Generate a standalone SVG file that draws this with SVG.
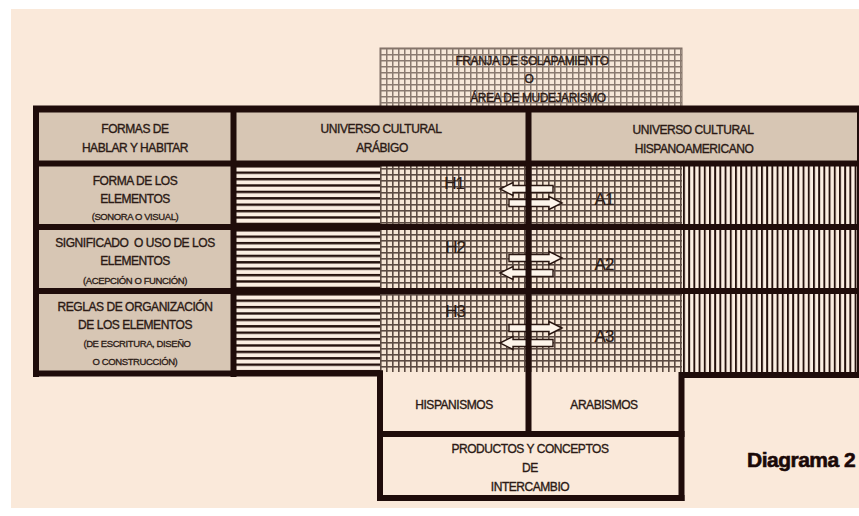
<svg xmlns="http://www.w3.org/2000/svg" width="859" height="516" viewBox="0 0 859 516">
<style>
.t{font-family:"Liberation Sans",Arial,sans-serif;font-size:12px;fill:#2b1a15;stroke:#2b1a15;stroke-width:0.35px;text-anchor:middle;letter-spacing:-0.45px}
.s{font-size:9.5px;letter-spacing:-0.4px;stroke-width:0.3px}
.hl{font-size:17px;letter-spacing:-1px;stroke-width:0.2px}
.tan{fill:#d7c6b4}
.cream{fill:#fae9da}
.ln{stroke:#1f0c0a;stroke-width:6;fill:none}
.arr{fill:#fdf4ea;stroke:#2a1712;stroke-width:1.4;stroke-linejoin:miter}
</style>
<defs>
<pattern id="grid" patternUnits="userSpaceOnUse" x="380" y="48" width="6" height="6">
<rect width="6" height="6" fill="#f6e6d6"/>
<rect width="6" height="1.6" fill="#5c4b43"/>
<rect width="1.6" height="6" fill="#5c4b43"/>
</pattern>
<pattern id="gridLight" patternUnits="userSpaceOnUse" x="380" y="48" width="6" height="6">
<rect width="6" height="6" fill="#f7e8d9"/>
<rect width="6" height="1.5" fill="#8a7a70"/>
<rect width="1.5" height="6" fill="#8a7a70"/>
</pattern>
<pattern id="hstripe" patternUnits="userSpaceOnUse" x="0" y="171.5" width="10" height="6.4">
<rect width="10" height="6.4" fill="#fbeee2"/>
<rect width="10" height="2.4" fill="#24110d"/>
</pattern>
<pattern id="vstripe" patternUnits="userSpaceOnUse" x="683" y="0" width="5.2" height="10">
<rect width="5.2" height="10" fill="#fbeee2"/>
<rect width="1.9" height="10" fill="#24110d"/>
</pattern>
<polygon id="arrL" points="0,0 13,-6.5 13,-3.5 53,-3.5 53,3.5 13,3.5 13,6.5"/>
<polygon id="arrR" points="53,0 40,-6.5 40,-3.5 0,-3.5 0,3.5 40,3.5 40,6.5"/>
</defs>

<rect width="859" height="516" fill="#ffffff"/>
<rect x="11" y="9" width="848" height="499" class="cream"/>

<g id="franja">
<rect x="380" y="48" width="302" height="60" fill="url(#gridLight)" stroke="#7f6f65" stroke-width="1"/>
<text class="t" x="532" y="65">FRANJA DE SOLAPAMIENTO</text>
<text class="t" x="529" y="83">O</text>
<text class="t" x="538" y="101.5">ÁREA DE MUDEJARISMO</text>
</g>

<g id="fills">
<rect x="39" y="112" width="818" height="50" class="tan"/>
<rect x="39" y="164" width="195" height="210" class="tan"/>
<rect x="235" y="164" width="146" height="210" fill="url(#hstripe)"/>
<rect x="380" y="164" width="302" height="208" fill="url(#grid)"/>
<rect x="682" y="164" width="177" height="210" fill="url(#vstripe)"/>
</g>

<g id="connectors">
<use href="#arrL" class="arr" x="500" y="189"/>
<use href="#arrR" class="arr" x="509" y="203"/>
<use href="#arrR" class="arr" x="509" y="258"/>
<use href="#arrL" class="arr" x="500" y="273"/>
<use href="#arrR" class="arr" x="509" y="328"/>
<use href="#arrL" class="arr" x="500" y="343"/>
</g>

<g id="table-lines">
<line class="ln" x1="33" y1="109" x2="859" y2="109" style="stroke-width:7"/>
<line class="ln" x1="36" y1="106" x2="36" y2="377"/>
<line class="ln" x1="33" y1="163.5" x2="859" y2="163.5"/>
<line class="ln" x1="233.5" y1="106" x2="233.5" y2="377"/>
<line class="ln" x1="528.5" y1="106" x2="528.5" y2="434"/>
<line class="ln" x1="33" y1="227" x2="859" y2="227"/>
<line class="ln" x1="33" y1="291" x2="859" y2="291"/>
<line class="ln" x1="33" y1="373.5" x2="383" y2="373.5"/>
<line class="ln" x1="679" y1="375" x2="859" y2="375"/>
<line class="ln" x1="380" y1="370.5" x2="380" y2="501"/>
<line class="ln" x1="681.5" y1="372" x2="681.5" y2="501"/>
<line class="ln" x1="377" y1="434" x2="684.5" y2="434"/>
<line class="ln" x1="377" y1="498" x2="684.5" y2="498"/>
<line x1="858" y1="106" x2="858" y2="378" stroke="#1f0c0a" stroke-width="2"/>
</g>

<g id="header-formas">
<text class="t" x="135" y="133">FORMAS DE</text>
<text class="t" x="135" y="152">HABLAR Y HABITAR</text>
</g>
<g id="header-arabigo">
<text class="t" x="381" y="133">UNIVERSO CULTURAL</text>
<text class="t" x="382" y="152">ARÁBIGO</text>
</g>
<g id="header-hispano">
<text class="t" x="693" y="134">UNIVERSO CULTURAL</text>
<text class="t" x="694" y="152.5">HISPANOAMERICANO</text>
</g>

<g id="row-forma">
<text class="t" x="135" y="185">FORMA DE LOS</text>
<text class="t" x="135" y="203">ELEMENTOS</text>
<text class="t s" x="135" y="220">(SONORA O VISUAL)</text>
</g>
<g id="row-significado">
<text class="t" x="135" y="247" xml:space="preserve">SIGNIFICADO  O USO DE LOS</text>
<text class="t" x="135" y="265">ELEMENTOS</text>
<text class="t s" x="135" y="284">(ACEPCIÓN O FUNCIÓN)</text>
</g>
<g id="row-reglas">
<text class="t" x="135" y="311">REGLAS DE ORGANIZACIÓN</text>
<text class="t" x="135" y="329">DE LOS ELEMENTOS</text>
<text class="t s" x="137" y="347">(DE ESCRITURA, DISEÑO</text>
<text class="t s" x="135" y="365">O CONSTRUCCIÓN)</text>
</g>

<g id="labels-h">
<text class="t hl" x="454" y="189">H1</text>
<text class="t hl" x="455" y="253">H2</text>
<text class="t hl" x="455" y="317">H3</text>
</g>
<g id="labels-a">
<text class="t hl" x="604" y="205">A1</text>
<text class="t hl" x="604" y="270">A2</text>
<text class="t hl" x="604" y="342">A3</text>
</g>

<g id="hispanismos">
<text class="t" x="454" y="409">HISPANISMOS</text>
</g>
<g id="arabismos">
<text class="t" x="604" y="409">ARABISMOS</text>
</g>
<g id="productos">
<text class="t" x="530" y="453">PRODUCTOS Y CONCEPTOS</text>
<text class="t" x="530" y="472">DE</text>
<text class="t" x="530" y="491">INTERCAMBIO</text>
</g>

<g id="title">
<text x="747" y="467" font-family="'Liberation Sans',Arial,sans-serif" font-size="21" font-weight="bold" letter-spacing="-0.5" fill="#1a0908" stroke="#1a0908" stroke-width="0.6">Diagrama 2</text>
</g>
</svg>
